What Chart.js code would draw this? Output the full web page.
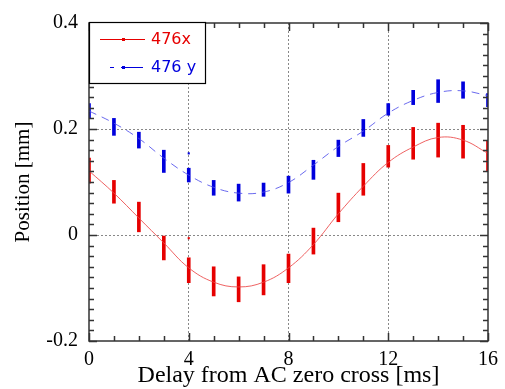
<!DOCTYPE html>
<html>
<head>
<meta charset="utf-8">
<script src="https://cdn.jsdelivr.net/npm/chart.js@4/dist/chart.umd.min.js"></script>
<style>
	html, body { margin: 0; padding: 0; background: #fff; }
	#wrap { width: 505px; height: 389px; }
</style>
</head>
<body>
<div id="wrap"><canvas id="main_chart"></canvas></div>
<script>
const delay = [0, 1, 2, 3, 4, 5, 6, 7, 8, 9, 10, 11, 12, 13, 14, 15, 16];

// measured spread at each delay (low / high) in mm
const xLow  = [0.098, 0.060, 0.006, -0.047, -0.090, -0.115, -0.126, -0.113, -0.090, -0.036, 0.025, 0.075, 0.128, 0.143, 0.147, 0.145, 0.120];
const xHigh = [0.145, 0.103, 0.062, -0.002, -0.043, -0.060, -0.079, -0.056, -0.036, 0.013, 0.079, 0.135, 0.169, 0.203, 0.211, 0.207, 0.177];
const yLow  = [0.220, 0.188, 0.164, 0.118, 0.100, 0.075, 0.064, 0.073, 0.079, 0.105, 0.148, 0.186, 0.226, 0.246, 0.250, 0.258, 0.242];
const yHigh = [0.248, 0.220, 0.194, 0.160, 0.126, 0.103, 0.096, 0.098, 0.111, 0.141, 0.179, 0.218, 0.248, 0.273, 0.293, 0.289, 0.267];

// single stray points
const strayDelay = [4];
const strayX = [-0.006];
const strayY = [0.154];

// fitted curves
const fitX = [0.121, 0.079, 0.032, -0.015, -0.062, -0.089, -0.098, -0.089, -0.062, -0.018, 0.040, 0.092, 0.137, 0.166, 0.184, 0.179, 0.154];
const fitY = [0.234, 0.211, 0.182, 0.145, 0.113, 0.090, 0.079, 0.081, 0.099, 0.132, 0.167, 0.196, 0.230, 0.254, 0.269, 0.272, 0.263];

const yTicks = [-0.2, 0, 0.2, 0.4];
const xTicks = [0, 4, 8, 12, 16];

const RED = "#e60000";
const BLUE = "#0000dd";

function ranges(lo, hi) {
	return delay.map((d, i) => ({ x: d, y: [lo[i], hi[i]] }));
}
function points(xs, ys) {
	return xs.map((d, i) => ({ x: d, y: ys[i] }));
}

// inward ticks, frame and the boxed legend
const frame = {
	id: 'frame',
	afterDraw(chart) {
		const c = chart.ctx;
		const a = chart.chartArea;
		const xs = chart.scales.x, ys = chart.scales.y;
		c.save();
		c.strokeStyle = "#333";
		c.lineWidth = 1.5;
		c.beginPath();
		for (let v = 0; v <= 16; v++) {
			const p = Math.round(xs.getPixelForValue(v)) + 0.5;
			const len = v % 4 == 0 ? 8 : 5;
			c.moveTo(p, a.bottom); c.lineTo(p, a.bottom - len);
			c.moveTo(p, a.top); c.lineTo(p, a.top + len);
		}
		for (let k = -10; k <= 20; k++) {
			const v = k * 0.02;
			const p = Math.round(ys.getPixelForValue(v)) + 0.5;
			const len = k % 10 == 0 ? 8 : 5;
			c.moveTo(a.left, p); c.lineTo(a.left + len, p);
			c.moveTo(a.right, p); c.lineTo(a.right - len, p);
		}
		c.stroke();
		c.strokeRect(a.left, a.top, a.right - a.left, a.bottom - a.top);

		// legend
		const lx = a.left, ly = a.top - 1, lw = 116, lh = 61;
		c.fillStyle = "#fff";
		c.fillRect(lx, ly, lw, lh);
		c.strokeStyle = "#000";
		c.lineWidth = 1.2;
		c.strokeRect(lx + 0.5, ly + 0.5, lw, lh);

		c.lineWidth = 1;
		c.strokeStyle = RED;
		c.beginPath(); c.moveTo(lx + 11, ly + 17.5); c.lineTo(lx + 56, ly + 17.5); c.stroke();
		c.fillStyle = RED;
		c.fillRect(lx + 33, ly + 16, 3, 3);
		c.strokeStyle = BLUE;
		c.setLineDash([4, 7]);
		c.beginPath(); c.moveTo(lx + 21, ly + 45.5); c.lineTo(lx + 54, ly + 45.5); c.stroke();
		c.setLineDash([]);
		c.beginPath(); c.moveTo(lx + 33, ly + 45.5); c.lineTo(lx + 54, ly + 45.5); c.stroke();
		c.fillStyle = BLUE;
		c.fillRect(lx + 33, ly + 44, 3, 3);

		c.font = "16px 'DejaVu Sans'";
		c.textBaseline = "middle";
		c.fillStyle = RED;
		c.fillText("476x", lx + 62, ly + 18);
		c.fillStyle = BLUE;
		c.fillText("476 y", lx + 62, ly + 46);
		c.restore();
	}
};

const serif = { family: "'Liberation Serif', serif", size: 20 };

new Chart(document.getElementById('main_chart'), {
	type: 'line',
	data: {
		datasets: [
			{
				type: 'line',
				data: points(delay, fitX),
				borderColor: "rgba(235, 70, 70, 0.85)",
				borderWidth: 1,
				pointRadius: 0,
				tension: 0.4,
			},
			{
				type: 'line',
				data: points(delay, fitY),
				borderColor: "rgba(80, 80, 235, 0.85)",
				borderWidth: 1,
				borderDash: [8, 6],
				pointRadius: 0,
				tension: 0.4,
			},
			{
				type: 'bar',
				data: ranges(xLow, xHigh),
				backgroundColor: RED,
				barThickness: 3,
				grouped: false,
			},
			{
				type: 'bar',
				data: ranges(yLow, yHigh),
				backgroundColor: BLUE,
				barThickness: 3,
				grouped: false,
			},
			{
				type: 'scatter',
				data: points(strayDelay, strayX),
				pointStyle: 'rect',
				pointRadius: 1.5,
				backgroundColor: RED,
				borderWidth: 0,
			},
			{
				type: 'scatter',
				data: points(strayDelay, strayY),
				pointStyle: 'rect',
				pointRadius: 1.5,
				backgroundColor: BLUE,
				borderWidth: 0,
			},
		]
	},
	options: {
		responsive: true,
		maintainAspectRatio: false,
		animation: false,
		layout: { padding: { top: 23, right: 16, left: 0, bottom: 0 } },
		plugins: {
			legend: { display: false },
			tooltip: { enabled: false },
		},
		scales: {
			x: {
				type: 'linear',
				min: 0,
				max: 16,
				offset: false,
				afterFit: (s) => { s.height = 48; },
				afterBuildTicks: (s) => { s.ticks = xTicks.map(v => ({ value: v })); },
				grid: {
					offset: false,
					drawTicks: false,
					color: (c) => (c.tick && (c.tick.value == 0 || c.tick.value == 16)) ? "rgba(0,0,0,0)" : "#888",
					lineWidth: 1,
				},
				border: { display: false, dash: [2, 2] },
				ticks: { color: "#000", font: serif, padding: 7, maxRotation: 0 },
				title: {
					display: true,
					text: 'Delay from AC zero cross [ms]',
					color: "#000",
					font: { family: serif.family, size: 24, lineHeight: 1.1 },
					padding: 0,
				},
			},
			y: {
				min: -0.2,
				max: 0.4,
				afterFit: (s) => { s.width = 89; },
				afterBuildTicks: (s) => { s.ticks = yTicks.map(v => ({ value: v })); },
				grid: {
					drawTicks: false,
					color: (c) => (c.tick && (c.tick.value == -0.2 || c.tick.value == 0.4)) ? "rgba(0,0,0,0)" : "#888",
					lineWidth: 1,
				},
				border: { display: false, dash: [2, 2] },
				ticks: {
					color: "#000",
					font: serif,
					padding: 11,
					callback: (v) => String(Math.round(v * 10) / 10),
				},
				title: {
					display: true,
					text: 'Position [mm]',
					color: "#000",
					font: { family: serif.family, size: 21, lineHeight: 1.2 },
					padding: { top: 11, bottom: 0 },
				},
			},
		},
	},
	plugins: [frame],
});
</script>
</body>
</html>
